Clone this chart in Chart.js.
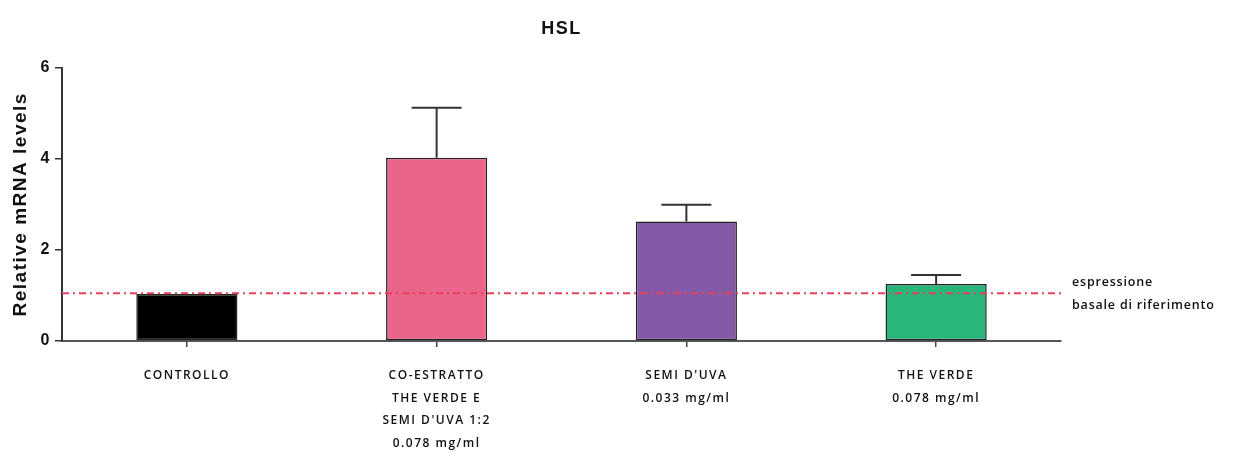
<!DOCTYPE html>
<html>
<head>
<meta charset="utf-8">
<script src="https://cdn.jsdelivr.net/npm/chart.js@4.4.1/dist/chart.umd.min.js"></script>
<style>
  body { margin: 0; background: #fff; }
  #wrap { width: 1236px; height: 455px; }
</style>
</head>
<body>
<div id="wrap"><canvas id="hsl-chart"></canvas></div>
<script>
const categories = [
    ['CONTROLLO'],
    ['CO-ESTRATTO', 'THE VERDE E', "SEMI D'UVA 1:2", '0.078 mg/ml'],
    ["SEMI D'UVA", '0.033 mg/ml'],
    ['THE VERDE', '0.078 mg/ml']
];
const meanValues = [1.03, 4.02, 2.62, 1.25];
const errorValues = [0, 1.1, 0.37, 0.2];
const barColors = ['#000000', '#ea6389', '#8459a5', '#2ab57b'];
const yTicks = [0, 2, 4, 6];
const baseline = 1.05;
const baselineLabel = ['espressione', 'basale di riferimento'];

// upper error bars + basal reference line
const extrasPlugin = {
    id: 'extras',
    afterDatasetsDraw(chart) {
        const ctx = chart.ctx;
        const y = chart.scales.y;
        const area = chart.chartArea;
        const meta = chart.getDatasetMeta(0);

        ctx.save();
        ctx.strokeStyle = '#333';
        ctx.lineWidth = 2;
        meta.data.forEach((bar, i) => {
            if (!errorValues[i]) return;
            const top = y.getPixelForValue(meanValues[i] + errorValues[i]);
            ctx.beginPath();
            ctx.moveTo(bar.x, bar.y);
            ctx.lineTo(bar.x, top);
            ctx.moveTo(bar.x - 25, top);
            ctx.lineTo(bar.x + 25, top);
            ctx.stroke();
        });

        const by = y.getPixelForValue(baseline);
        ctx.strokeStyle = '#e8405c';
        ctx.setLineDash([7, 4, 2, 4]);
        ctx.beginPath();
        ctx.moveTo(area.left, by);
        ctx.lineTo(area.right, by);
        ctx.stroke();
        ctx.setLineDash([]);

        ctx.fillStyle = '#111';
        ctx.font = '600 12.5px "Open Sans"';
        ctx.letterSpacing = '0.8px';
        ctx.textBaseline = 'middle';
        ctx.fillText(baselineLabel[0], area.right + 11, by - 11);
        ctx.fillText(baselineLabel[1], area.right + 11, by + 12);
        ctx.restore();
    }
};

const spacingPlugin = {
    id: 'spacing',
    beforeDraw(chart) {
        chart.ctx.letterSpacing = '1.5px';
    }
};

new Chart(document.getElementById('hsl-chart'), {
    type: 'bar',
    data: {
        labels: categories,
        datasets: [{
            data: meanValues,
            backgroundColor: barColors,
            borderColor: '#222',
            borderWidth: 1.5,
            borderSkipped: false,
            categoryPercentage: 1,
            barPercentage: 0.405
        }]
    },
    options: {
        responsive: true,
        maintainAspectRatio: false,
        animation: false,
        layout: { padding: { left: 0, right: 175, top: 0, bottom: 0 } },
        plugins: {
            legend: { display: false },
            tooltip: { enabled: false },
            title: {
                display: true,
                text: 'HSL',
                fullSize: false,
                color: '#111',
                font: { size: 18, weight: 'bold', family: 'Liberation Sans' },
                padding: { top: 18, bottom: 28 }
            }
        },
        scales: {
            x: {
                afterFit: (scale) => { scale.height = 114; },
                grid: {
                    offset: false,
                    drawOnChartArea: false,
                    tickLength: 6,
                    color: '#444',
                    lineWidth: 1.5
                },
                border: { color: '#555', width: 2 },
                ticks: {
                    color: '#111',
                    padding: 17,
                    font: { size: 12, weight: '600', family: 'Open Sans', lineHeight: 1.9 }
                }
            },
            y: {
                min: 0,
                max: 6,
                afterFit: (scale) => { scale.width = 62; },
                afterBuildTicks: (scale) => { scale.ticks = yTicks.map(v => ({ value: v })); },
                grid: {
                    drawOnChartArea: false,
                    tickLength: 7,
                    color: '#333',
                    lineWidth: 1.5
                },
                border: { color: '#333', width: 2 },
                ticks: {
                    color: '#111',
                    padding: 4,
                    font: { size: 16, weight: 'bold', family: 'Liberation Sans' }
                },
                title: {
                    display: true,
                    text: 'Relative mRNA levels',
                    color: '#111',
                    padding: { top: 9, bottom: 0 },
                    font: { size: 19, weight: 'bold', family: 'Liberation Sans' }
                }
            }
        }
    },
    plugins: [spacingPlugin, extrasPlugin]
});
</script>
</body>
</html>
